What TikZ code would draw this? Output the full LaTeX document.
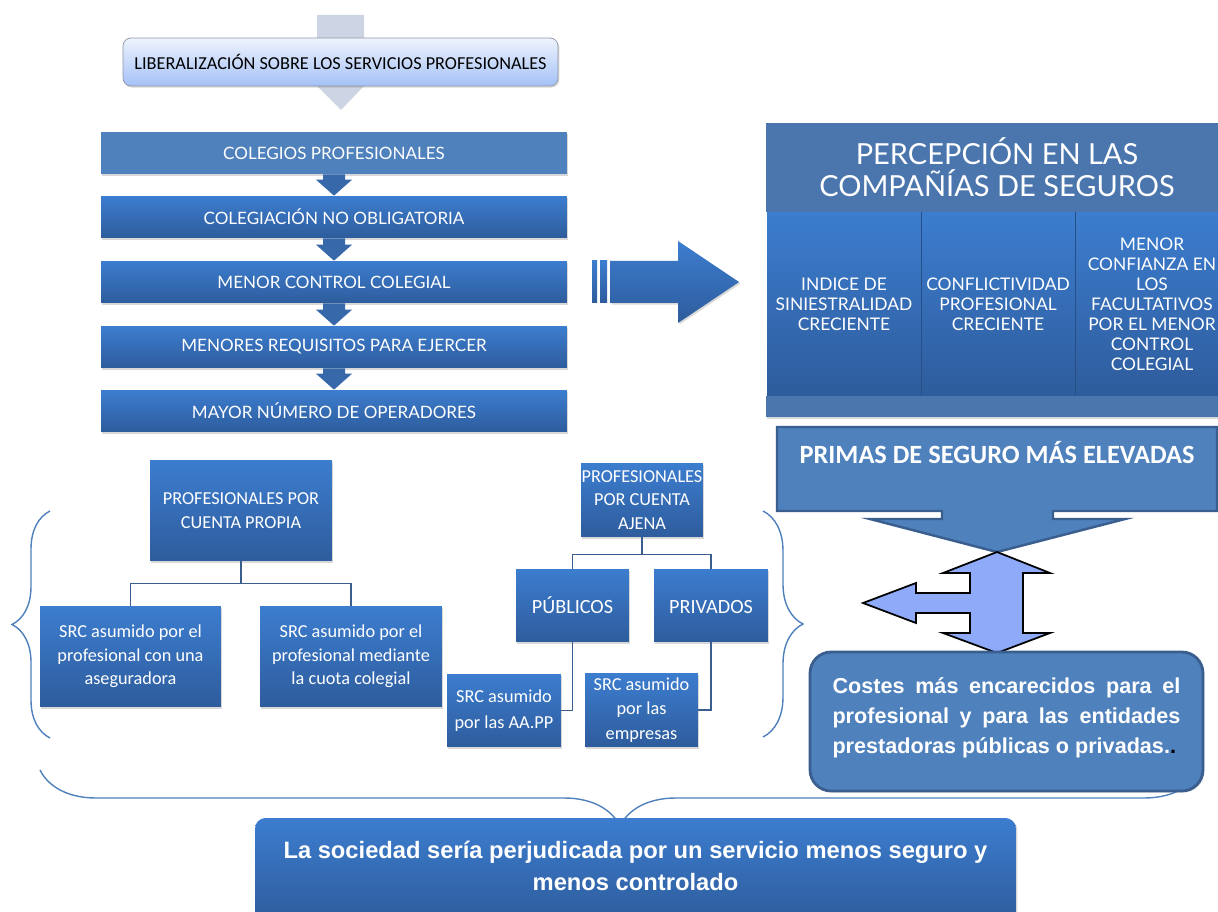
\documentclass[tikz,border=0pt]{standalone}
\usepackage{fontspec}
\setmainfont{Carlito}
\newfontfamily\gillfont{Lato}
\newfontfamily\arialfont{Liberation Sans}
\usepackage{tikz}
\usetikzlibrary{calc,decorations.pathreplacing,shadows}
\definecolor{BoxTop}{HTML}{3C7DCF}
\definecolor{BoxBot}{HTML}{2E5C9C}
\definecolor{FlatBlue}{HTML}{4F81BD}
\definecolor{HeadBlue}{HTML}{4A75AD}
\definecolor{EdgeBlue}{HTML}{3A5E8E}
\definecolor{StepArrow}{HTML}{3668AA}
\definecolor{GreyArrow}{HTML}{CDD5E4}
\definecolor{LibTop}{HTML}{EEF3FE}
\definecolor{LibBot}{HTML}{A4C1F6}
\definecolor{LibEdge}{HTML}{8E96A4}
\definecolor{Lavender}{HTML}{8EAAF8}

\begin{document}
\begin{tikzpicture}[x=0.02cm, y=-0.02cm,
  every node/.style={inner sep=0pt},
  softshadow/.style={drop shadow={shadow xshift=0.8pt, shadow yshift=-0.9pt, opacity=0.3}},
  barbase/.style={rectangle, text=white, minimum width=9.32cm, minimum height=0.84cm,
                  font=\gillfont\fontsize{9.7}{11}\selectfont, softshadow},
  bar/.style={barbase, top color=BoxTop, bottom color=BoxBot},
  flatbar/.style={barbase, fill=FlatBlue},
  orgbox/.style={rectangle, top color=BoxTop, bottom color=BoxBot, text=white, align=center,
                 font=\fontsize{10.4}{13.5}\selectfont, softshadow},
  col/.style={rectangle, top color=BoxTop, bottom color=BoxBot, text=white, align=center,
              minimum width=3.08cm, minimum height=3.68cm, font=\gillfont\fontsize{9.9}{11.4}\selectfont},
  brc/.style={draw=FlatBlue, line width=0.8pt, decorate, decoration={brace, amplitude=#1}},
  link/.style={draw=EdgeBlue, line width=0.9pt},
  boldtxt/.style={text=white, font=\arialfont\bfseries\fontsize{12.3}{17}\selectfont}]

  \fill[white] (0,0) rectangle (1218,912);
  \useasboundingbox (0,0) rectangle (1218,912);

  \fill[GreyArrow] (317,15) -- (364,15) -- (364,86) -- (341,110) -- (317,86) -- cycle;
  \node[rectangle, rounded corners=4.5pt, top color=LibTop, bottom color=LibBot, draw=LibEdge,
        minimum width=8.7cm, minimum height=0.96cm, softshadow,
        font=\fontsize{10.4}{12}\selectfont] (liberal) at (340.5,62)
        {LIBERALIZACIÓN SOBRE LOS SERVICIOS PROFESIONALES};

  \node[flatbar] (colegios)    at (334,153) {COLEGIOS PROFESIONALES};
  \node[bar]     (colegiacion) at (334,217) {COLEGIACIÓN NO OBLIGATORIA};
  \node[bar]     (control)     at (334,282) {MENOR CONTROL COLEGIAL};
  \node[bar]     (requisitos)  at (334,347) {MENORES REQUISITOS PARA EJERCER};
  \node[bar]     (operadores)  at (334,411) {MAYOR NÚMERO DE OPERADORES};
  \foreach \a/\b in {colegios/colegiacion,colegiacion/control,control/requisitos,requisitos/operadores}
    \fill[StepArrow] ($(\a.south)+(-11,0)$) -- ($(\a.south)+(11,0)$) -- ($(\b.north)+(11,-16)$)
      -- ($(\b.north)+(18,-16)$) -- (\b.north) -- ($(\b.north)+(-18,-16)$) -- ($(\b.north)+(-11,-16)$) -- cycle;

  \shade[top color=BoxTop, bottom color=BoxBot, softshadow]
    (610,261) -- (678,261) -- (678,241) -- (739,282) -- (678,323) -- (678,303) -- (610,303) -- cycle;
  \shade[top color=BoxTop, bottom color=BoxBot] (592,261) rectangle (597,303);
  \shade[top color=BoxTop, bottom color=BoxBot] (600,261) rectangle (607,303);

  \node[rectangle, fill=HeadBlue, text=white, minimum width=9.24cm, minimum height=1.78cm,
        align=center, font=\gillfont\fontsize{16.5}{18}\selectfont] (percep) at (997,167.5)
        {PERCEPCIÓN EN LAS\\COMPAÑÍAS DE SEGUROS};
  \node[col] (indice)   at (844,304)  {INDICE DE\\SINIESTRALIDAD\\CRECIENTE};
  \node[col] (conflict) at (998,304)  {CONFLICTIVIDAD\\PROFESIONAL\\CRECIENTE};
  \node[col] (confianza) at (1152,304) {MENOR\\CONFIANZA EN\\LOS\\FACULTATIVOS\\POR EL MENOR\\CONTROL\\COLEGIAL};
  \draw[BoxBot!85!black, line width=0.6pt] (indice.north east) -- (indice.south east)
    (conflict.north east) -- (conflict.south east);
  \node[rectangle, fill=HeadBlue, minimum width=9.24cm, minimum height=0.42cm, softshadow] (strip)
    at (997,406.5) {};

  \filldraw[fill=FlatBlue, draw=EdgeBlue, line width=1.4pt]
    (777,427) -- (1217,427) -- (1217,511) -- (1053,511) -- (1053,519) -- (1125,519) -- (997,552)
    -- (870,519) -- (942,519) -- (942,511) -- (777,511) -- cycle;
  \node[text=white, font=\bfseries\fontsize{15}{17}\selectfont] (primas) at (997,453)
    {PRIMAS DE SEGURO MÁS ELEVADAS};

  \filldraw[fill=Lavender, draw=black, line width=1pt]
    (997,552) -- (1050,573) -- (1023,573) -- (1023,633) -- (1050,633) -- (997,653) -- (943,633)
    -- (970,633) -- (970,613) -- (916,613) -- (916,623) -- (863,603) -- (916,583) -- (916,593)
    -- (970,593) -- (970,573) -- (943,573) -- cycle;

  \draw[brc=1.12cm] (1200,770) -- (40,770);

  \node[rectangle, rounded corners=12pt, fill=FlatBlue, draw=EdgeBlue, line width=1.6pt,
        minimum width=7.86cm, minimum height=2.78cm, softshadow] (costesbox) at (1006.5,721.5) {};
  \node[boldtxt, text width=6.96cm, align=justify] (costes) at (1006.5,718)
    {\hyphenpenalty=10000 Costes más encarecidos para el\linebreak
     profesional y para las entidades\linebreak
     prestadoras públicas o privadas.\textcolor{black}{.}};

  \node[orgbox, minimum width=3.64cm, minimum height=2.02cm] (propia)   at (241,510.5) {PROFESIONALES POR\\CUENTA PROPIA};
  \node[orgbox, minimum width=3.62cm, minimum height=2.02cm] (srcaseg)  at (130.5,656.5) {SRC asumido por el\\profesional con una\\aseguradora};
  \node[orgbox, minimum width=3.64cm, minimum height=2.02cm] (srccuota) at (351,656.5) {SRC asumido por el\\profesional mediante\\la cuota colegial};
  \draw[link] (propia.south) -- ++(0,22) -| (srcaseg.north);
  \draw[link] (propia.south) -- ++(0,22) -| (srccuota.north);
  \draw[brc=0.76cm] (50,738) -- (50,511);

  \node[orgbox, minimum width=2.44cm, minimum height=1.48cm] (ajena)    at (642,500)   {PROFESIONALES\\POR CUENTA\\AJENA};
  \node[orgbox, minimum width=2.26cm, minimum height=1.46cm, font=\fontsize{11.5}{13}\selectfont] (publicos) at (572.5,605.5) {PÚBLICOS};
  \node[orgbox, minimum width=2.28cm, minimum height=1.46cm, font=\fontsize{11.5}{13}\selectfont] (privados) at (711,605.5)   {\vphantom{Ú}PRIVADOS};
  \node[orgbox, minimum width=2.28cm, minimum height=1.46cm, font=\fontsize{10.4}{15}\selectfont] (aapp)     at (504,710.5)   {SRC asumido\\por las AA.PP};
  \node[orgbox, minimum width=2.26cm, minimum height=1.48cm, font=\fontsize{10.4}{14}\selectfont] (empresas) at (641.5,710)   {SRC asumido\\por las\\empresas};
  \draw[link] (ajena.south) -- ++(0,17) -| (publicos.north);
  \draw[link] (ajena.south) -- ++(0,17) -| (privados.north);
  \draw[link] (publicos.south) |- (aapp.east);
  \draw[link] (privados.south) |- (empresas.east);
  \draw[brc=0.8cm] (763,511) -- (763,737);

  \node[rectangle, rounded corners=6pt, top color=BoxTop, bottom color=BoxBot,
        minimum width=15.22cm, minimum height=2.08cm, softshadow] (sociedadbox) at (635.5,870) {};
  \node[boldtxt, align=center, font=\arialfont\bfseries\fontsize{13.5}{18}\selectfont] (sociedad) at (635.5,866)
    {La sociedad sería perjudicada por un servicio menos seguro y\\menos controlado};
\end{tikzpicture}
\end{document}
